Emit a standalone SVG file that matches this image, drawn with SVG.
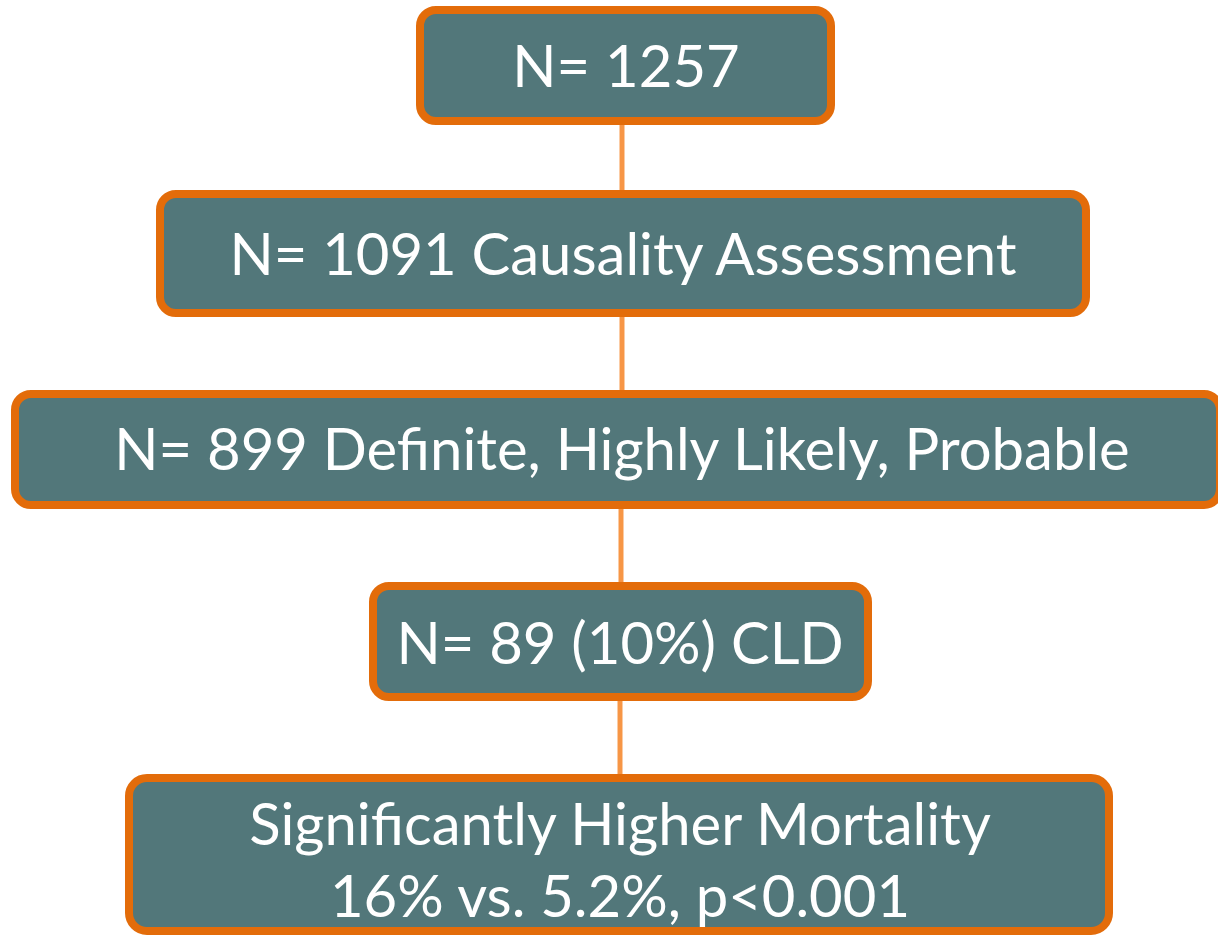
<svg xmlns="http://www.w3.org/2000/svg" width="1218" height="938" viewBox="0 0 1218 938">
  <style>
    .box { fill: #52777A; stroke: #E36C0A; stroke-width: 8; }
    .link { stroke: #F79646; stroke-width: 5; fill: none; }
    .label { fill: #FFFFFF; font-family: "Lato", "Open Sans", "Liberation Sans", sans-serif; font-size: 58px; text-anchor: middle; }
  </style>
  <rect width="1218" height="938" fill="#FFFFFF"/>
  <g id="connectors">
    <line class="link" x1="622" y1="125" x2="622" y2="191"/>
    <line class="link" x1="622" y1="317" x2="622" y2="391"/>
    <line class="link" x1="621" y1="509" x2="621" y2="583"/>
    <line class="link" x1="620" y1="701" x2="620" y2="775"/>
  </g>
  <g id="node-total">
    <rect class="box" x="420" y="10" width="411" height="111" rx="16"/>
    <text class="label" x="626" y="87">N= 1257</text>
  </g>
  <g id="node-causality">
    <rect class="box" x="160" y="194" width="926" height="119" rx="16"/>
    <text class="label" x="623" y="275">N= 1091 Causality Assessment</text>
  </g>
  <g id="node-probable">
    <rect class="box" x="15" y="394" width="1205" height="111" rx="16"/>
    <text class="label" x="622" y="470">N= 899 Definite, Highly Likely, Probable</text>
  </g>
  <g id="node-cld">
    <rect class="box" x="373" y="586" width="495" height="111" rx="16"/>
    <text class="label" x="620" y="664">N= 89 (10%) CLD</text>
  </g>
  <g id="node-mortality">
    <rect class="box" x="129" y="778" width="980" height="153" rx="18"/>
    <text class="label" x="620" y="845">Significantly Higher Mortality</text>
    <text class="label" x="620" y="917">16% vs. 5.2%, p&lt;0.001</text>
  </g>
</svg>
